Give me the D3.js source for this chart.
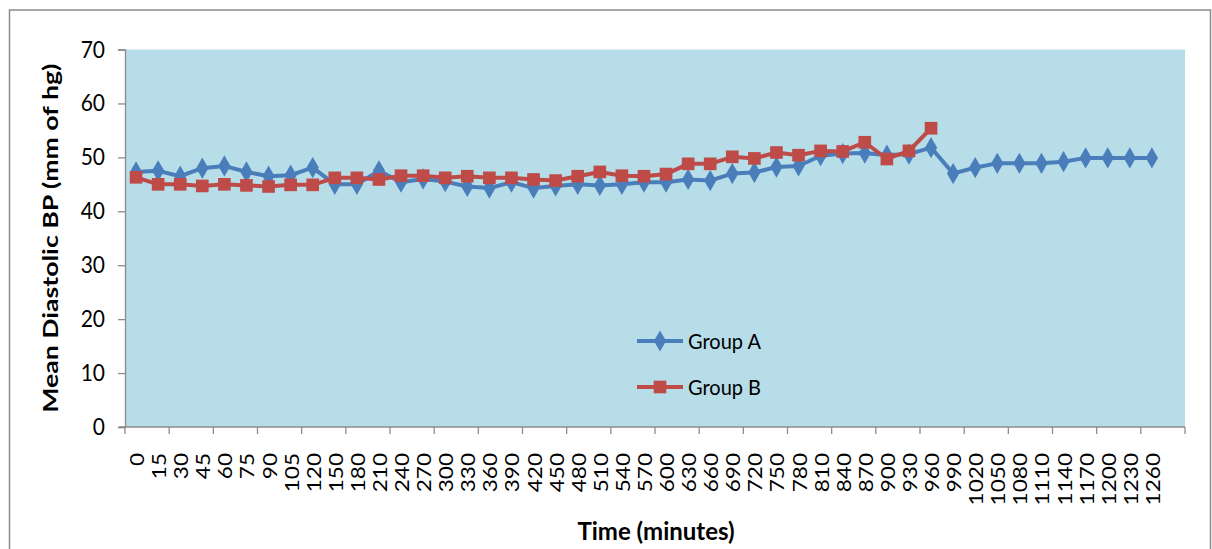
<!DOCTYPE html>
<html>
<head>
<meta charset="utf-8">
<script src="https://cdn.jsdelivr.net/npm/d3@7"></script>
<style>
  html, body { margin: 0; padding: 0; background: #ffffff; }
  svg { display: block; }
  text { font-family: Lato, "Open Sans", sans-serif; fill: #000; }
</style>
</head>
<body>
<svg id="chart" width="1212" height="549"></svg>
<script>
// Sampling times (minutes)
const timeLabels = ["0","15","30","45","60","75","90","105","120",
  "150","180","210","240","270","300","330","360","390","420","450","480",
  "510","540","570","600","630","660","690","720","750","780","810","840",
  "870","900","930","960","990","1020","1050","1080","1110","1140","1170",
  "1200","1230","1260"];

// Mean diastolic BP (mm of hg) per group
const groupA = [47.3,47.5,46.5,48.0,48.4,47.3,46.5,46.7,48.1,
  45.0,45.0,47.5,45.4,46.0,45.5,44.6,44.3,
  45.4,44.3,44.7,45.0,44.8,45.0,45.4,45.4,
  45.9,45.7,47.0,47.2,48.2,48.4,50.3,50.7,
  50.8,50.4,50.6,51.8,47.0,48.1,48.9,48.9,
  48.9,49.2,49.9,49.9,49.9,49.9];

const groupB = [46.3,45.0,45.0,44.7,45.0,44.8,44.6,44.9,44.9,
  46.2,46.2,45.9,46.6,46.6,46.2,46.5,46.2,
  46.2,45.9,45.7,46.5,47.3,46.6,46.5,46.9,
  48.8,48.8,50.1,49.8,50.9,50.4,51.2,51.1,
  52.8,49.7,51.2,55.4];

const yTicks = [0,10,20,30,40,50,60,70];

const seriesNames = ["Group A", "Group B"];
const colorA = "#4A7EBB", colorB = "#BE4B48";

const svg = d3.select("#chart");
const plot = { left: 125, right: 1185, top: 49.5, bottom: 427 };

// Outer chart frame
svg.append("rect")
  .attr("x", 9.5).attr("y", 10).attr("width", 1201).attr("height", 560)
  .attr("fill", "#ffffff").attr("stroke", "#8c8c8c").attr("stroke-width", 1.5);

// Plot background
svg.append("rect")
  .attr("x", plot.left).attr("y", plot.top)
  .attr("width", plot.right - plot.left).attr("height", plot.bottom - plot.top)
  .attr("fill", "#B7DDE8");

// One trailing empty category slot, as in the original category axis
const x = d3.scaleBand()
  .domain(d3.range(timeLabels.length + 1))
  .range([plot.left, plot.right])
  .paddingInner(0).paddingOuter(0);
const cx = i => x(i) + x.bandwidth() / 2;

const y = d3.scaleLinear().domain([0, 70]).range([plot.bottom, plot.top]);

// Y axis
const yAxis = svg.append("g")
  .attr("transform", `translate(${plot.left},0)`)
  .call(d3.axisLeft(y).tickValues(yTicks).tickSize(7).tickPadding(13).tickFormat(d3.format("d")));
yAxis.select(".domain").attr("stroke", "#8c8c8c").attr("stroke-width", 1.3);
yAxis.selectAll(".tick line").attr("stroke", "#8c8c8c").attr("stroke-width", 1.3);
yAxis.selectAll(".tick text")
  .style("font-size", "21px").style("font-family", "Lato, sans-serif").attr("fill", "#000")
  .attr("transform", "scale(1,1.12)")
  .attr("y", 0)
  .attr("dy", "0.32em");

// X axis line and ticks at every second category boundary
const gx = svg.append("g");
gx.append("line")
  .attr("x1", plot.left - 6).attr("x2", plot.right)
  .attr("y1", plot.bottom).attr("y2", plot.bottom)
  .attr("stroke", "#8c8c8c").attr("stroke-width", 1.3);
const boundaries = d3.range(0, timeLabels.length + 2, 2);
gx.selectAll("line.tk").data(boundaries).join("line")
  .attr("class", "tk")
  .attr("x1", i => i < timeLabels.length + 1 ? x(i) : plot.right)
  .attr("x2", i => i < timeLabels.length + 1 ? x(i) : plot.right)
  .attr("y1", plot.bottom).attr("y2", plot.bottom + 7)
  .attr("stroke", "#8c8c8c").attr("stroke-width", 1.3);

// X tick labels, rotated
gx.selectAll("text.lbl").data(timeLabels).join("text")
  .attr("class", "lbl")
  .attr("transform", (d, i) => `translate(${cx(i) + 1},${plot.bottom + 26}) rotate(-90) scale(1.13,1)`)
  .attr("text-anchor", "end")
  .attr("dy", "0.35em")
  .style("font-size", "20px")
  .text(d => d);

// Axis titles
svg.append("text")
  .attr("transform", `translate(58,${(plot.top + plot.bottom) / 2}) rotate(-90) scale(1.27,1)`)
  .attr("text-anchor", "middle")
  .style("font-size", "21px").style("font-weight", "bold")
  .text("Mean Diastolic BP  (mm of hg)");

svg.append("text")
  .attr("x", (plot.left + plot.right) / 2 + 1).attr("y", 540)
  .attr("text-anchor", "middle")
  .style("font-size", "24px").style("font-weight", "bold")
  .text("Time (minutes)");

// Lines
const line = d3.line()
  .defined(d => d != null)
  .x((d, i) => cx(i)).y(d => y(d));

const diamond = d3.symbol().type(d3.symbolDiamond).size(130);
const square = d3.symbol().type(d3.symbolSquare).size(160);

function drawSeries(values, color, shape) {
  const g = svg.append("g");
  g.append("path").datum(values)
    .attr("d", line)
    .attr("fill", "none").attr("stroke", color)
    .attr("stroke-width", 4).attr("stroke-linejoin", "round");
  g.selectAll("path.mk").data(values).join("path")
    .attr("class", "mk")
    .attr("transform", (d, i) => `translate(${cx(i)},${y(d)})`)
    .attr("d", shape)
    .attr("fill", color);
}

drawSeries(groupA, colorA, diamond);
drawSeries(groupB, colorB, square);

// Legend
const legend = svg.append("g");
const legendItems = [
  { name: seriesNames[0], color: colorA, shape: diamond, yPos: 341 },
  { name: seriesNames[1], color: colorB, shape: square, yPos: 387 }
];
legendItems.forEach(it => {
  legend.append("line")
    .attr("x1", 637).attr("x2", 683).attr("y1", it.yPos).attr("y2", it.yPos)
    .attr("stroke", it.color).attr("stroke-width", 4);
  legend.append("path")
    .attr("transform", `translate(660,${it.yPos})`)
    .attr("d", it.shape).attr("fill", it.color);
  legend.append("text")
    .attr("transform", `translate(688,${it.yPos}) scale(1,1.1)`)
    .attr("dy", "0.35em")
    .style("font-size", "20px")
    .text(it.name);
});
</script>
</body>
</html>
